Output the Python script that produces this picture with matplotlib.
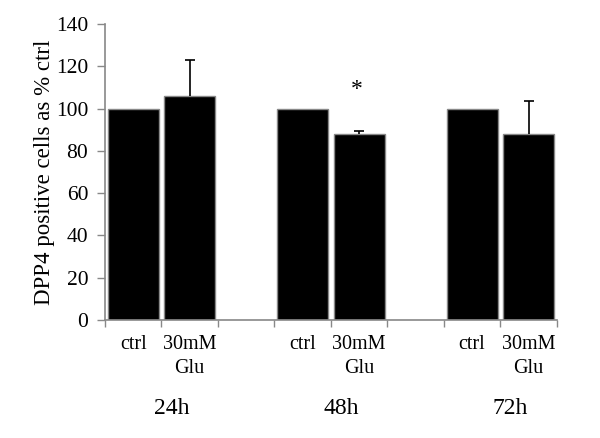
import matplotlib
matplotlib.use("Agg")
import matplotlib.pyplot as plt
import numpy as np

plt.rcParams['font.family'] = ['Liberation Serif', 'DejaVu Serif']

times = ["24h", "48h", "72h"]
conditions = ["ctrl", "30mM\nGlu"]
ctrl_vals = [100, 100, 100]
glu_vals = [106, 88, 88]
glu_err = [17, 1.5, 15.6]
sig_marks = ["", "*", ""]
ylabel = "DPP4 positive cells as % ctrl"

fig = plt.figure(figsize=(6, 4.38), dpi=100)
ax = fig.add_axes([0.175, 0.2694, 0.753, 0.676])

edge = "#888888"
for i in range(len(times)):
    xc = 3 * i
    xg = 3 * i + 1
    ax.bar(xc, ctrl_vals[i], width=0.9, color="black", edgecolor=edge, linewidth=1)
    ax.bar(xg, glu_vals[i], width=0.9, color="black", edgecolor=edge, linewidth=1)
    eb = ax.errorbar(xg, glu_vals[i], yerr=[[0], [glu_err[i]]], fmt="none",
                     ecolor="black", elinewidth=1.2, capsize=3.3, capthick=1.2)
    caps = eb[1]
    if len(caps) > 1:
        caps[0].set_visible(False)
    if sig_marks[i]:
        ax.text(xg - 0.05, glu_vals[i] + 21, sig_marks[i], ha="center", va="center",
                fontsize=17)
    ax.text(xc, -7, conditions[0], ha="center", va="top", fontsize=14.5)
    ax.text(xg, -7, conditions[1], ha="center", va="top", fontsize=14.5,
            linespacing=1.35)
    ax.text(3 * i + 0.68, -37, times[i], ha="center", va="top", fontsize=17)

ax.set_xlim(-0.5, 7.5)
ax.set_ylim(0, 140)
ax.set_yticks(np.arange(0, 141, 20))
ax.set_xticks(np.arange(-0.5, 7.6, 1))
ax.set_xticklabels([])
ax.tick_params(axis="y", labelsize=15.5, color=edge, length=6, width=1,
               direction="out", pad=6)
ax.tick_params(axis="x", color=edge, length=5, width=1, direction="out")
for s in ["top", "right"]:
    ax.spines[s].set_visible(False)
for s in ["left", "bottom"]:
    ax.spines[s].set_color(edge)
    ax.spines[s].set_linewidth(1.2)
ax.set_ylabel(ylabel, fontsize=16.5, labelpad=1)

fig.savefig("out.png", dpi=100)
